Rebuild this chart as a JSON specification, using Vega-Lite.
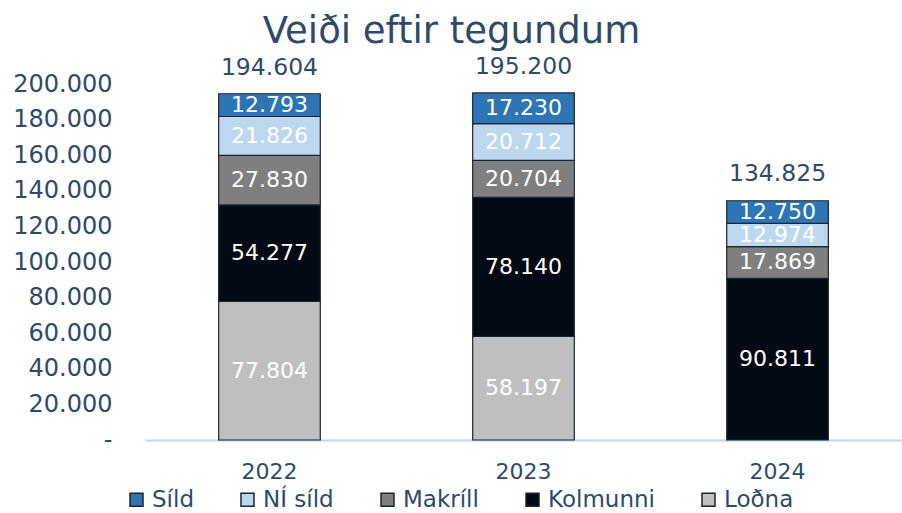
{
  "$schema": "https://vega.github.io/schema/vega-lite/v6.json",
  "autosize": "none",
  "width": 757,
  "height": 356,
  "padding": {"left": 145, "top": 84, "right": 0, "bottom": 73},
  "background": "white",
  "config": {"view": {"stroke": null}, "font": "DejaVu Sans", "axis": {"labelOverlap": false}},
  "title": {"text": "Veiði eftir tegundum", "fontSize": 37, "font": "DejaVu Sans", "fontWeight": "normal", "color": "#2F4A68", "anchor": "middle", "dx": -72, "offset": 4},
  "datasets": {
    "catch": [
      {"year": "2022", "type": "Loðna", "value": 77804},
      {"year": "2022", "type": "Kolmunni", "value": 54277},
      {"year": "2022", "type": "Makríll", "value": 27830},
      {"year": "2022", "type": "NÍ síld", "value": 21826},
      {"year": "2022", "type": "Síld", "value": 12793},
      {"year": "2023", "type": "Loðna", "value": 58197},
      {"year": "2023", "type": "Kolmunni", "value": 78140},
      {"year": "2023", "type": "Makríll", "value": 20704},
      {"year": "2023", "type": "NÍ síld", "value": 20712},
      {"year": "2023", "type": "Síld", "value": 17230},
      {"year": "2024", "type": "Kolmunni", "value": 90811},
      {"year": "2024", "type": "Makríll", "value": 17869},
      {"year": "2024", "type": "NÍ síld", "value": 12974},
      {"year": "2024", "type": "Síld", "value": 12750}
    ],
    "totals": [
      {"year": "2022", "total": 194604},
      {"year": "2023", "total": 195200},
      {"year": "2024", "total": 134825}
    ]
  },
  "layer": [
    {
      "data": {"name": "catch"},
      "transform": [
        {"calculate": "indexof(['Loðna','Kolmunni','Makríll','NÍ síld','Síld'], datum.type)", "as": "ord"},
        {"stack": "value", "groupby": ["year"], "sort": [{"field": "ord", "order": "ascending"}], "as": ["v0", "v1"]},
        {"calculate": "(datum.v0 + datum.v1) / 2", "as": "mid"},
        {"calculate": "replace(format(datum.value, ','), ',', '.')", "as": "lbl"}
      ],
      "layer": [
        {
          "mark": {"type": "bar", "stroke": "#1B2533", "strokeWidth": 1.2},
          "encoding": {
            "x": {"field": "year", "type": "nominal", "scale": {"paddingInner": 0.6, "paddingOuter": 0.29},
              "axis": {"title": null, "labelAngle": 0, "ticks": false, "domainColor": "#BDD7EE", "domainWidth": 2, "labelFontSize": 22, "labelColor": "#2F4A68", "labelPadding": 21, "labelFont": "DejaVu Sans"}},
            "y": {"field": "v0", "type": "quantitative", "stack": null, "scale": {"domain": [0, 200000], "nice": false},
              "axis": {"title": null, "values": [0,20000,40000,60000,80000,100000,120000,140000,160000,180000,200000], "grid": false, "domain": false, "ticks": false, "labelPadding": 33, "labelFontSize": 24, "labelColor": "#2F4A68", "labelFont": "DejaVu Sans", "labelOverlap": false, "labelBound": false,
                "labelExpr": "datum.value == 0 ? '-' : replace(format(datum.value, ','), ',', '.')"}},
            "y2": {"field": "v1"},
            "color": {"field": "type", "type": "nominal",
              "scale": {"domain": ["Síld", "NÍ síld", "Makríll", "Kolmunni", "Loðna"], "range": ["#2E75B6", "#BDD7EE", "#7F7F7F", "#040A13", "#BFBFBF"]},
              "legend": {"title": null, "orient": "none", "direction": "horizontal", "legendX": -20, "legendY": 404, "symbolType": "square", "symbolSize": 169, "symbolStrokeColor": "#1B2533", "symbolStrokeWidth": 1.5, "symbolOpacity": 1, "labelFontSize": 23, "labelColor": "#2F4A68", "labelFont": "DejaVu Sans", "columnPadding": 42, "labelOffset": 4}}
          }
        },
        {
          "mark": {"type": "text", "color": "white", "fontSize": 22, "font": "DejaVu Sans", "baseline": "middle"},
          "encoding": {
            "x": {"field": "year", "type": "nominal",
              "axis": {"title": null, "labelAngle": 0, "ticks": false, "domainColor": "#BDD7EE", "domainWidth": 2, "labelFontSize": 22, "labelColor": "#2F4A68", "labelPadding": 21, "labelFont": "DejaVu Sans"}},
            "y": {"field": "mid", "type": "quantitative", "stack": null,
              "axis": {"title": null, "values": [0,20000,40000,60000,80000,100000,120000,140000,160000,180000,200000], "grid": false, "domain": false, "ticks": false, "labelPadding": 33, "labelFontSize": 24, "labelColor": "#2F4A68", "labelFont": "DejaVu Sans", "labelOverlap": false, "labelBound": false,
                "labelExpr": "datum.value == 0 ? '-' : replace(format(datum.value, ','), ',', '.')"}},
            "text": {"field": "lbl"}
          }
        }
      ]
    },
    {
      "data": {"name": "totals"},
      "transform": [{"calculate": "replace(format(datum.total, ','), ',', '.')", "as": "lbl"}],
      "mark": {"type": "text", "color": "#2F4A68", "fontSize": 23.5, "font": "DejaVu Sans", "baseline": "alphabetic", "dy": -19},
      "encoding": {
        "x": {"field": "year", "type": "nominal",
          "axis": {"title": null, "labelAngle": 0, "ticks": false, "domainColor": "#BDD7EE", "domainWidth": 2, "labelFontSize": 22, "labelColor": "#2F4A68", "labelPadding": 21, "labelFont": "DejaVu Sans"}},
        "y": {"field": "total", "type": "quantitative",
          "axis": {"title": null, "values": [0,20000,40000,60000,80000,100000,120000,140000,160000,180000,200000], "grid": false, "domain": false, "ticks": false, "labelPadding": 33, "labelFontSize": 24, "labelColor": "#2F4A68", "labelFont": "DejaVu Sans", "labelOverlap": false, "labelBound": false,
            "labelExpr": "datum.value == 0 ? '-' : replace(format(datum.value, ','), ',', '.')"}},
        "text": {"field": "lbl"}
      }
    }
  ]
}
